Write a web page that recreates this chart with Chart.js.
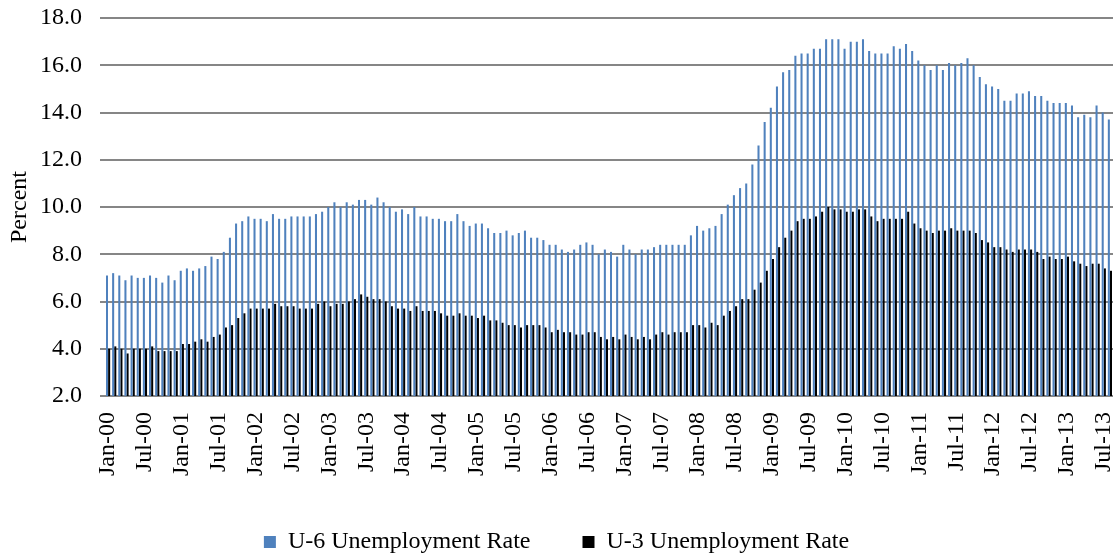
<!DOCTYPE html>
<html>
<head>
<meta charset="utf-8">
<script src="https://cdn.jsdelivr.net/npm/chart.js@4.4.0/dist/chart.umd.min.js"></script>
<style>
html, body { margin: 0; padding: 0; background: #fff; }
#wrap { width: 1117px; height: 557px; }
</style>
</head>
<body>
<div id="wrap"><canvas id="chart" width="1117" height="557"></canvas></div>
<script>
// Categories: monthly, Jan-00 .. Aug-13
const months = ['Jan','Feb','Mar','Apr','May','Jun','Jul','Aug','Sep','Oct','Nov','Dec'];
const years = ['00','01','02','03','04','05','06','07','08','09','10','11','12','13'];

// U-6 rate (percent)
const u6 = [
    7.1, 7.2, 7.1, 6.9, 7.1, 7.0, 7.0, 7.1, 7.0, 6.8, 7.1, 6.9,
    7.3, 7.4, 7.3, 7.4, 7.5, 7.9, 7.8, 8.1, 8.7, 9.3, 9.4, 9.6,
    9.5, 9.5, 9.4, 9.7, 9.5, 9.5, 9.6, 9.6, 9.6, 9.6, 9.7, 9.8,
    10.0, 10.2, 10.0, 10.2, 10.1, 10.3, 10.3, 10.1, 10.4, 10.2, 10.0, 9.8,
    9.9, 9.7, 10.0, 9.6, 9.6, 9.5, 9.5, 9.4, 9.4, 9.7, 9.4, 9.2,
    9.3, 9.3, 9.1, 8.9, 8.9, 9.0, 8.8, 8.9, 9.0, 8.7, 8.7, 8.6,
    8.4, 8.4, 8.2, 8.1, 8.2, 8.4, 8.5, 8.4, 8.0, 8.2, 8.1, 7.9,
    8.4, 8.2, 8.0, 8.2, 8.2, 8.3, 8.4, 8.4, 8.4, 8.4, 8.4, 8.8,
    9.2, 9.0, 9.1, 9.2, 9.7, 10.1, 10.5, 10.8, 11.0, 11.8, 12.6, 13.6,
    14.2, 15.1, 15.7, 15.8, 16.4, 16.5, 16.5, 16.7, 16.7, 17.1, 17.1, 17.1,
    16.7, 17.0, 17.0, 17.1, 16.6, 16.5, 16.5, 16.5, 16.8, 16.7, 16.9, 16.6,
    16.2, 16.0, 15.8, 16.0, 15.8, 16.1, 16.0, 16.1, 16.3, 16.0, 15.5, 15.2,
    15.1, 15.0, 14.5, 14.5, 14.8, 14.8, 14.9, 14.7, 14.7, 14.5, 14.4, 14.4,
    14.4, 14.3, 13.8, 13.9, 13.8, 14.3, 14.0, 13.7
];

// U-3 rate (percent)
const u3 = [
    4.0, 4.1, 4.0, 3.8, 4.0, 4.0, 4.0, 4.1, 3.9, 3.9, 3.9, 3.9,
    4.2, 4.2, 4.3, 4.4, 4.3, 4.5, 4.6, 4.9, 5.0, 5.3, 5.5, 5.7,
    5.7, 5.7, 5.7, 5.9, 5.8, 5.8, 5.8, 5.7, 5.7, 5.7, 5.9, 6.0,
    5.8, 5.9, 5.9, 6.0, 6.1, 6.3, 6.2, 6.1, 6.1, 6.0, 5.8, 5.7,
    5.7, 5.6, 5.8, 5.6, 5.6, 5.6, 5.5, 5.4, 5.4, 5.5, 5.4, 5.4,
    5.3, 5.4, 5.2, 5.2, 5.1, 5.0, 5.0, 4.9, 5.0, 5.0, 5.0, 4.9,
    4.7, 4.8, 4.7, 4.7, 4.6, 4.6, 4.7, 4.7, 4.5, 4.4, 4.5, 4.4,
    4.6, 4.5, 4.4, 4.5, 4.4, 4.6, 4.7, 4.6, 4.7, 4.7, 4.7, 5.0,
    5.0, 4.9, 5.1, 5.0, 5.4, 5.6, 5.8, 6.1, 6.1, 6.5, 6.8, 7.3,
    7.8, 8.3, 8.7, 9.0, 9.4, 9.5, 9.5, 9.6, 9.8, 10.0, 9.9, 9.9,
    9.8, 9.8, 9.9, 9.9, 9.6, 9.4, 9.5, 9.5, 9.5, 9.5, 9.8, 9.3,
    9.1, 9.0, 8.9, 9.0, 9.0, 9.1, 9.0, 9.0, 9.0, 8.9, 8.6, 8.5,
    8.3, 8.3, 8.2, 8.1, 8.2, 8.2, 8.2, 8.1, 7.8, 7.9, 7.8, 7.8,
    7.9, 7.7, 7.6, 7.5, 7.6, 7.6, 7.4, 7.3
];

const yTicks = [2, 4, 6, 8, 10, 12, 14, 16, 18];

const labels = [];
years.forEach(y => months.forEach(m => labels.push(m + '-' + y)));
labels.length = u6.length;

const serif = "'Liberation Serif', 'Times New Roman', serif";
Chart.defaults.font.family = serif;
Chart.defaults.font.size = 24;
Chart.defaults.color = '#000';

new Chart(document.getElementById('chart').getContext('2d'), {
    type: 'bar',
    data: {
        labels: labels,
        datasets: [
            { label: 'U-6 Unemployment Rate', data: u6, backgroundColor: '#4f81bd',
              categoryPercentage: 0.7, barPercentage: 0.95 },
            { label: 'U-3 Unemployment Rate', data: u3, backgroundColor: '#000000',
              categoryPercentage: 0.7, barPercentage: 0.95 }
        ]
    },
    options: {
        responsive: false,
        animation: false,
        devicePixelRatio: 1,
        layout: { padding: { top: 18, right: 4, left: 0, bottom: 0 } },
        plugins: {
            tooltip: { enabled: false },
            legend: {
                position: 'bottom',
                maxHeight: 79,
                labels: { boxWidth: 12, boxHeight: 12, padding: 52, color: '#000', font: { size: 24 } }
            }
        },
        scales: {
            x: {
                grid: { display: false, tickLength: 8 },
                border: { display: false },
                afterFit: s => { s.height = 82; s.paddingLeft = 0; s.paddingRight = 0; },
                ticks: {
                    autoSkip: false, maxRotation: 90, minRotation: 90, padding: 8,
                    callback: (v, i) => i % 6 === 0 ? labels[i] : null
                }
            },
            y: {
                min: 2, max: 18,
                afterBuildTicks: s => { s.ticks = yTicks.map(v => ({ value: v })); },
                afterFit: s => { s.width = 105; s.paddingTop = 0; s.paddingBottom = 0; },
                grid: { color: '#868686', lineWidth: 2, tickLength: 5 },
                border: { display: false },
                ticks: { padding: 18, callback: v => v.toFixed(1) },
                title: { display: true, text: 'Percent', padding: { top: 5, bottom: 0 } }
            }
        }
    }
});
</script>
</body>
</html>
